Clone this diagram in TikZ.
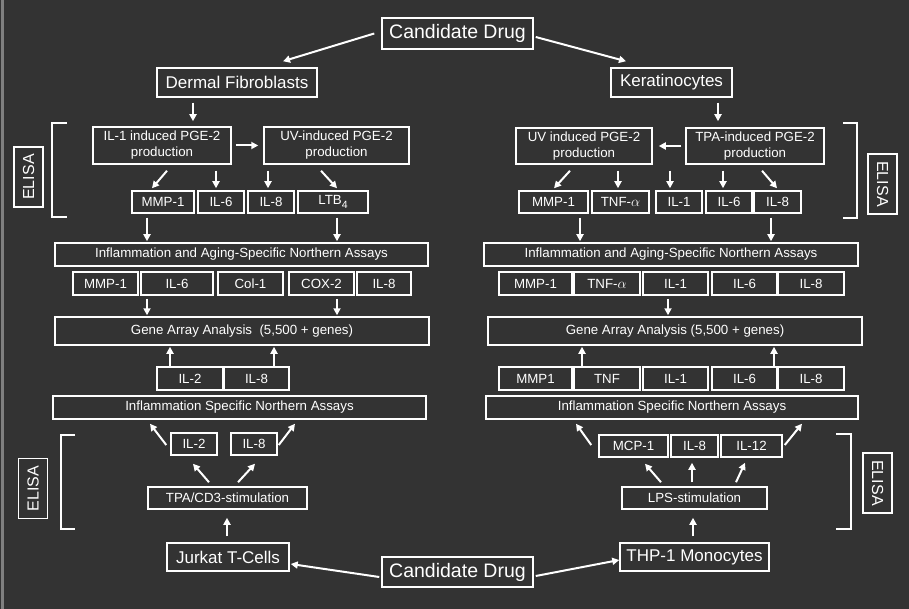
\documentclass[tikz,border=0pt]{standalone}
\usepackage{fontspec}
\setmainfont{Liberation Sans}
\usetikzlibrary{arrows.meta}
\definecolor{fond}{HTML}{333333}
\tikzset{
	box/.style={draw=white, line width=1.5pt, text=white, inner sep=0pt, align=center, font=\fontsize{13.3}{16}\selectfont},
	cell/.style={box, font=\fontsize{17}{20}\selectfont},
	drug/.style={box, font=\fontsize{19.5}{22}\selectfont},
	elisa/.style={box, font=\fontsize{16}{19}\selectfont, minimum width=60pt, minimum height=29pt},
	arr/.style={white, line width=2pt, -{Triangle[length=7pt,width=7pt]}},
	brack/.style={white, line width=2pt},
}
\begin{document}
\begin{tikzpicture}[x=1pt,y=-1pt]
			\useasboundingbox (0,0) rectangle (909,609);
			\fill[fond] (0,0) rectangle (909,609);
			\fill[gray] (1,0) rectangle (3.5,609);
			
			\node[drug, minimum width=151pt, minimum height=31pt] (cdtop) at (457.5,33.5) {Candidate Drug};
			\node[cell, minimum width=160pt, minimum height=29pt] (derm) at (237,82.5) {Dermal Fibroblasts};
			\node[cell, minimum width=121pt, minimum height=29pt] (kera) at (671.5,82.5) {Keratinocytes};
			
			\node[box, minimum width=138pt, minimum height=37pt] (ilpge) at (162,145.5) {IL-1 induced PGE-2\\production};
			\node[box, minimum width=145pt, minimum height=37pt] (uvl) at (336.5,145.5) {UV-induced PGE-2\\production};
			\node[box, minimum width=136pt, minimum height=36pt] (uvr) at (584,146) {UV induced PGE-2\\production};
			\node[box, minimum width=138pt, minimum height=36pt] (tpa) at (755,146) {TPA-induced PGE-2\\production};
			
			\node[box, minimum width=62pt, minimum height=22pt] (emmpl) at (163,202) {MMP-1};
			\node[box, minimum width=46pt, minimum height=22pt] (esixl) at (221,202) {IL-6};
			\node[box, minimum width=46pt, minimum height=22pt] (eeightl) at (271,202) {IL-8};
			\node[box, minimum width=70pt, minimum height=22pt] (eltb) at (333,202) {LTB\raisebox{-3.5pt}{\fontsize{10.5}{10.5}\selectfont 4}};
			
			\node[box, minimum width=69pt, minimum height=22pt] (emmpr) at (553.5,202) {MMP-1};
			\node[box, minimum width=57pt, minimum height=22pt] (etnfr) at (620.5,202) {TNF-$\alpha$};
			\node[box, minimum width=46pt, minimum height=22pt] (eoner) at (679,202) {IL-1};
			\node[box, minimum width=46pt, minimum height=22pt] (esixr) at (729,202) {IL-6};
			\node[box, minimum width=47pt, minimum height=22pt] (eeightr) at (777.5,202) {IL-8};
			
			\node[box, minimum width=373pt, minimum height=23pt] (nal) at (241.5,254.5) {Inflammation and Aging-Specific Northern Assays};
			\node[box, minimum width=374pt, minimum height=23pt] (nar) at (671,254.5) {Inflammation and Aging-Specific Northern Assays};
			
			\node[box, minimum width=65pt, minimum height=23pt] (nmmpl) at (105.5,283.5) {MMP-1};
			\node[box, minimum width=72pt, minimum height=23pt] (nsixl) at (177,283.5) {IL-6};
			\node[box, minimum width=65pt, minimum height=23pt] (ncol) at (250.5,283.5) {Col-1};
			\node[box, minimum width=65pt, minimum height=23pt] (ncox) at (321.5,283.5) {COX-2};
			\node[box, minimum width=54pt, minimum height=23pt] (neightl) at (384,283.5) {IL-8};
			
			\node[box, minimum width=73pt, minimum height=23pt] (nmmpr) at (535.5,283.5) {MMP-1};
			\node[box, minimum width=66pt, minimum height=23pt] (ntnfr) at (607,283.5) {TNF-$\alpha$};
			\node[box, minimum width=65pt, minimum height=23pt] (noner) at (675.5,283.5) {IL-1};
			\node[box, minimum width=65pt, minimum height=23pt] (nsixr) at (744.5,283.5) {IL-6};
			\node[box, minimum width=66pt, minimum height=23pt] (neightr) at (811,283.5) {IL-8};
			
			\node[box, minimum width=374pt, minimum height=28pt] (gal) at (242,331) {Gene Array Analysis ~(5,500 + genes)};
			\node[box, minimum width=374pt, minimum height=28pt] (gar) at (675,331) {Gene Array Analysis (5,500 + genes)};
			
			\node[box, minimum width=66pt, minimum height=23pt] (stwol) at (190,378.5) {IL-2};
			\node[box, minimum width=65pt, minimum height=23pt] (seightl) at (256.5,378.5) {IL-8};
			
			\node[box, minimum width=73pt, minimum height=23pt] (smmpr) at (535.5,378.5) {MMP1};
			\node[box, minimum width=66pt, minimum height=23pt] (stnfr) at (607,378.5) {TNF};
			\node[box, minimum width=65pt, minimum height=23pt] (soner) at (675.5,378.5) {IL-1};
			\node[box, minimum width=65pt, minimum height=23pt] (ssixr) at (744.5,378.5) {IL-6};
			\node[box, minimum width=66pt, minimum height=23pt] (seightr) at (811,378.5) {IL-8};
			
			\node[box, minimum width=373pt, minimum height=23pt] (nsl) at (239.5,407.5) {Inflammation Specific Northern Assays};
			\node[box, minimum width=372pt, minimum height=23pt] (nsr) at (672,407.5) {Inflammation Specific Northern Assays};
			
			\node[box, minimum width=46pt, minimum height=22pt] (jtwo) at (194,444) {IL-2};
			\node[box, minimum width=46pt, minimum height=22pt] (jeight) at (254,444) {IL-8};
			\node[box, minimum width=159pt, minimum height=22pt] (tpacd) at (227.5,498) {TPA/CD3-stimulation};
			\node[cell, minimum width=122pt, minimum height=28pt] (jurkat) at (228,557) {Jurkat T-Cells};
			
			\node[box, minimum width=69pt, minimum height=22pt] (tmcp) at (633.5,446) {MCP-1};
			\node[box, minimum width=47pt, minimum height=22pt] (teight) at (694.5,446) {IL-8};
			\node[box, minimum width=61pt, minimum height=22pt] (ttwelve) at (751.5,446) {IL-12};
			\node[box, minimum width=145pt, minimum height=22pt] (lps) at (694.5,498) {LPS-stimulation};
			\node[cell, minimum width=149pt, minimum height=28pt] (thp) at (694.5,557) {THP-1 Monocytes};
			
			\node[drug, minimum width=151pt, minimum height=30pt] (cdbot) at (457.5,572) {Candidate Drug};
			
			\node[elisa, rotate=90] (elt) at (28.5,177) {ELISA};
			\node[elisa, rotate=-90] (ert) at (882.5,184) {ELISA};
			\node[elisa, rotate=90] (elb) at (33,488.5) {ELISA};
			\node[elisa, rotate=-90] (erb) at (877.5,483) {ELISA};
			
			\draw[brack] (67,123) -- (52,123) -- (52,217) -- (67,217);
			\draw[brack] (843,123) -- (857,123) -- (857,218) -- (843,218);
			\draw[brack] (75,435) -- (61,435) -- (61,529) -- (75,529);
			\draw[brack] (836,434) -- (851,434) -- (851,529) -- (836,529);
			
			\draw[arr] ([shift={(-7,0)}]cdtop.west) -- ([shift={(46,-6)}]derm.north);
			\draw[arr] ([shift={(2,3.5)}]cdtop.east) -- ([shift={(-45.5,-6)}]kera.north);
			\draw[arr] ([shift={(-44,5)}]derm.south) -- ([shift={(31,-5)}]ilpge.north);
			\draw[arr] ([shift={(4,0)}]ilpge.east) -- ([shift={(-5,0)}]uvl.west);
			\draw[arr] ([shift={(46.5,5)}]kera.south) -- ([shift={(-37,-6)}]tpa.north);
			\draw[arr] ([shift={(-4,0)}]tpa.west) -- ([shift={(6,0)}]uvr.east);
			
			\draw[arr] ([shift={(5,6)}]ilpge.south) -- ([shift={(-11,-2)}]emmpl.north);
			\draw[arr] ([shift={(54,6)}]ilpge.south) -- ([shift={(-5,-2)}]esixl.north);
			\draw[arr] ([shift={(-68.5,6)}]uvl.south) -- ([shift={(-3,-2)}]eeightl.north);
			\draw[arr] ([shift={(-15.5,6)}]uvl.south) -- ([shift={(4,-2)}]eltb.north);
			\draw[arr] ([shift={(-14,6)}]uvr.south) -- ([shift={(0.5,-2)}]emmpr.north);
			\draw[arr] ([shift={(34,6)}]uvr.south) -- ([shift={(-2.5,-2)}]etnfr.north);
			\draw[arr] ([shift={(-85,6)}]tpa.south) -- ([shift={(-9,-2)}]eoner.north);
			\draw[arr] ([shift={(-32,6)}]tpa.south) -- ([shift={(-6,-2)}]esixr.north);
			\draw[arr] ([shift={(7,6)}]tpa.south) -- ([shift={(-0.5,-2)}]eeightr.north);
			
			\draw[arr] ([shift={(-16,4)}]emmpl.south) -- ([shift={(-94.5,-1)}]nal.north);
			\draw[arr] ([shift={(4,4)}]eltb.south) -- ([shift={(95.5,-1)}]nal.north);
			\draw[arr] ([shift={(26.5,4)}]emmpr.south) -- ([shift={(-91,-1)}]nar.north);
			\draw[arr] ([shift={(-6.5,4)}]eeightr.south) -- ([shift={(100,-1)}]nar.north);
			
			\draw[arr] ([shift={(-30,3)}]nsixl.south) -- ([shift={(-95,-1)}]gal.north);
			\draw[arr] ([shift={(15.5,3)}]ncox.south) -- ([shift={(95,-1)}]gal.north);
			\draw[arr] ([shift={(-7.5,3)}]noner.south) -- ([shift={(-7,-1)}]gar.north);
			
			\draw[arr] ([shift={(-20,0)}]stwol.north) -- ([shift={(-72,1)}]gal.south);
			\draw[arr] ([shift={(17.5,0)}]seightl.north) -- ([shift={(32,1)}]gal.south);
			\draw[arr] ([shift={(46.5,0)}]smmpr.north) -- ([shift={(-93,1)}]gar.south);
			\draw[arr] ([shift={(29.5,0)}]ssixr.north) -- ([shift={(99,1)}]gar.south);
			
			\draw[arr] ([shift={(-4,1)}]jtwo.west) -- ([shift={(-89.5,4)}]nsl.south);
			\draw[arr] ([shift={(1,1)}]jeight.east) -- ([shift={(55.5,4)}]nsl.south);
			\draw[arr] ([shift={(-18.5,-4)}]tpacd.north) -- ([shift={(-1,8)}]jtwo.south);
			\draw[arr] ([shift={(10.5,-4)}]tpacd.north) -- ([shift={(1,8)}]jeight.south);
			\draw[arr] ([shift={(-1,-6)}]jurkat.north) -- ([shift={(-0.5,8)}]tpacd.south);
			\draw[arr] ([shift={(-2,5)}]cdbot.west) -- ([shift={(1,7)}]jurkat.east);
			
			\draw[arr] ([shift={(2,4)}]cdbot.east) -- ([shift={(0,3)}]thp.west);
			\draw[arr] ([shift={(-1.5,-6)}]thp.north) -- ([shift={(-1.5,8)}]lps.south);
			\draw[arr] ([shift={(-33.5,-4)}]lps.north) -- ([shift={(11.5,6)}]tmcp.south);
			\draw[arr] ([shift={(-2.5,-4)}]lps.north) -- ([shift={(-2.5,5)}]teight.south);
			\draw[arr] ([shift={(41.5,-4)}]lps.north) -- ([shift={(-6.5,5)}]ttwelve.south);
			\draw[arr] ([shift={(-7,-1)}]tmcp.west) -- ([shift={(-96,4)}]nsr.south);
			\draw[arr] ([shift={(2,-1)}]ttwelve.east) -- ([shift={(130,4)}]nsr.south);
		\end{tikzpicture}
\end{document}
